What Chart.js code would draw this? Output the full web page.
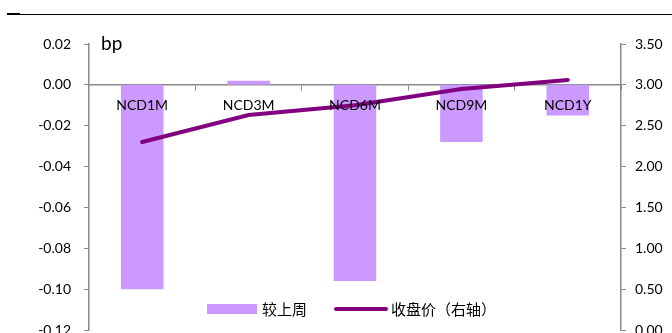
<!DOCTYPE html>
<html lang="zh">
<head>
<meta charset="UTF-8">
<title>NCD 较上周</title>
<style>
    body {
        margin: 0;
        background: #fff;
        font-family: Lato, 'Noto Sans CJK SC', sans-serif;
    }
    .wrap {
        position: relative;
        width: 672px;
        height: 333px;
        overflow: hidden;
    }
    .rule {
        position: absolute;
        left: 20px;
        top: 14px;
        width: 652px;
        height: 1px;
        background: #000;
    }
    .rule-lead {
        position: absolute;
        left: 7px;
        top: 13px;
        width: 13px;
        height: 2px;
        background: #000;
    }
    .legend {
        position: absolute;
        top: 298px;
        left: 207px;
        display: flex;
        align-items: center;
        font-family: 'Noto Sans CJK SC', sans-serif;
        font-size: 15px;
        color: #000;
    }
    .legend .box {
        width: 50px;
        height: 10px;
        background: #cc99ff;
        margin-right: 5px;
    }
    .legend .ln {
        width: 54px;
        height: 4px;
        border-radius: 2px;
        background: #800080;
        margin-left: 27px;
        margin-right: 3px;
    }
    canvas {
        position: absolute;
        left: 0;
        top: 0;
    }
</style>
</head>
<body>
<div class="wrap">
    <div class="rule-lead"></div>
    <div class="rule"></div>
    <canvas id="chart" width="672" height="333"></canvas>
    <div class="legend">
        <div class="box"></div><span>较上周</span>
        <div class="ln"></div><span>收盘价（右轴）</span>
    </div>
</div>

<script src="https://cdn.jsdelivr.net/npm/chart.js"></script>
<script>
    // data
    const categories = ['NCD1M', 'NCD3M', 'NCD6M', 'NCD9M', 'NCD1Y'];
    const weekChange = [-0.100, 0.002, -0.096, -0.028, -0.015];
    const closePrice = [2.30, 2.63, 2.75, 2.95, 3.06];

    const axisGray = '#898989';
    const tickFont = { family: 'Lato', size: 14 };
    const fmt = v => (Math.abs(v) < 1e-9 ? 0 : v).toFixed(2);

    // fixed axis widths so the plot area sits where the original one does
    function fitSide(width) {
        return scale => {
            scale.width = width;
            scale.paddingTop = 0;
            scale.paddingBottom = 0;
        };
    }

    // draws the "bp" unit label at the top of the left axis
    const unitLabel = {
        id: 'unitLabel',
        afterDraw(chart) {
            const ctx = chart.ctx;
            ctx.save();
            ctx.font = '19px Lato';
            ctx.fillStyle = '#000';
            ctx.textBaseline = 'alphabetic';
            ctx.fillText('bp', chart.chartArea.left + 12, 50);
            ctx.restore();
        }
    };

    new Chart(document.getElementById('chart'), {
        data: {
            labels: categories,
            datasets: [{
                type: 'line',
                label: '收盘价（右轴）',
                data: closePrice,
                yAxisID: 'y1',
                borderColor: '#800080',
                borderWidth: 4,
                borderCapStyle: 'round',
                pointRadius: 0,
                tension: 0,
                order: 0
            }, {
                type: 'bar',
                label: '较上周',
                data: weekChange,
                yAxisID: 'y',
                backgroundColor: '#cc99ff',
                categoryPercentage: 1,
                barPercentage: 0.4,
                order: 1
            }]
        },
        options: {
            responsive: false,
            animation: false,
            layout: { padding: { top: 44, bottom: 3, left: 0, right: 0 } },
            plugins: {
                legend: { display: false },
                tooltip: { enabled: false }
            },
            scales: {
                x: {
                    position: { y: 0 },
                    offset: true,
                    grid: {
                        offset: true,
                        drawOnChartArea: false,
                        tickLength: 5,
                        color: axisGray
                    },
                    border: { color: axisGray, width: 1.5 },
                    ticks: { font: tickFont, color: '#000', padding: 7, maxRotation: 0, z: 1 }
                },
                y: {
                    position: 'left',
                    min: -0.12,
                    max: 0.02,
                    grid: { drawOnChartArea: false, tickLength: 5, color: axisGray },
                    border: { color: axisGray, width: 1.5 },
                    ticks: {
                        stepSize: 0.02,
                        font: tickFont,
                        color: '#000',
                        padding: 13,
                        callback: fmt
                    },
                    afterFit: fitSide(89)
                },
                y1: {
                    position: 'right',
                    min: 0,
                    max: 3.5,
                    grid: { drawOnChartArea: false, tickLength: 5, color: axisGray },
                    border: { color: axisGray, width: 1.5 },
                    ticks: {
                        stepSize: 0.5,
                        font: tickFont,
                        color: '#000',
                        padding: 9,
                        callback: fmt
                    },
                    afterFit: fitSide(51)
                }
            }
        },
        plugins: [unitLabel]
    });
</script>
</body>
</html>
